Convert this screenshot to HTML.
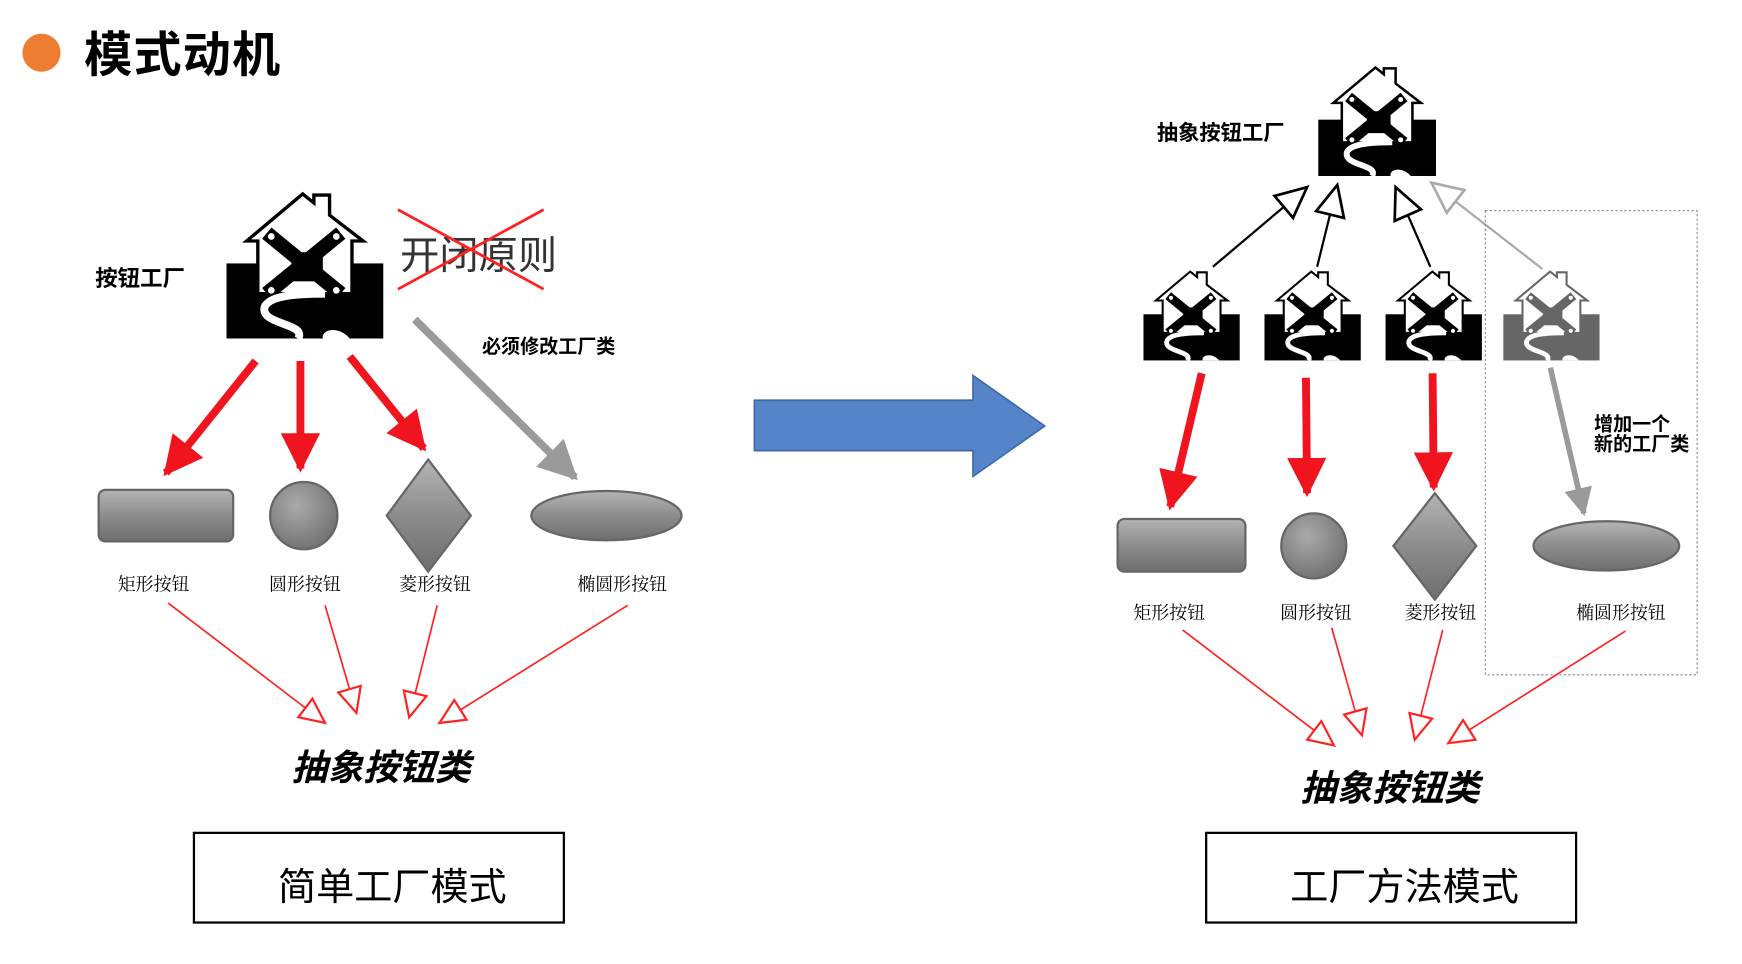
<!DOCTYPE html>
<html><head><meta charset="utf-8"><style>
html,body{margin:0;padding:0;background:#fff;}
svg{display:block;}
.b{font-family:"Liberation Sans","Noto Sans CJK SC",sans-serif;font-weight:bold;fill:#000;}
.s{font-family:"Liberation Serif","Noto Serif CJK SC",serif;fill:#000;}
</style></head><body>
<svg width="1742" height="964" viewBox="0 0 1554 860" preserveAspectRatio="none" xmlns="http://www.w3.org/2000/svg">
<defs>
<linearGradient id="g" x1="0" y1="0" x2="0" y2="1"><stop offset="0" stop-color="#b4b4b4"/><stop offset="0.5" stop-color="#8c8c8c"/><stop offset="1" stop-color="#6e6e6e"/></linearGradient>
<radialGradient id="rg" cx="0.4" cy="0.35" r="0.7"><stop offset="0" stop-color="#aaa"/><stop offset="1" stop-color="#707070"/></radialGradient>
<symbol id="house" viewBox="0 0 140 132">
<rect x="0" y="65" width="140" height="67" fill="currentColor"/>
<polygon points="18,45 68,3 78,11 78,4 92,4 92,22 122,45 112,45 112,92 28,92 28,45" fill="#fff" stroke="currentColor" stroke-width="3"/>
<rect x="58" y="55" width="28" height="26" fill="currentColor"/>
<line x1="36" y1="38" x2="102" y2="92" stroke="currentColor" stroke-width="13"/>
<line x1="102" y1="38" x2="36" y2="92" stroke="currentColor" stroke-width="13"/>
<circle cx="40" cy="41" r="3" fill="#fff"/><circle cx="98" cy="89" r="3" fill="#fff"/>
<circle cx="98" cy="41" r="3" fill="#fff"/><circle cx="40" cy="89" r="3" fill="#fff"/>
<path d="M64,132 C72,118 30,120 34,104 C38,94 60,92 88,92" fill="none" stroke="#fff" stroke-width="7"/>
<path d="M86,132 C84,124 100,120 110,132" fill="#fff"/>
</symbol>
<marker id="ho" viewBox="0 0 20 20" refX="18" refY="10" markerWidth="26" markerHeight="26" markerUnits="userSpaceOnUse" orient="auto"><path d="M1,2 L18,10 L1,18 Z" fill="#fff" stroke="#f22" stroke-width="1.5"/></marker>
<marker id="hk" viewBox="0 0 20 20" refX="18" refY="10" markerWidth="32" markerHeight="32" markerUnits="userSpaceOnUse" orient="auto"><path d="M1,2 L18,10 L1,18 Z" fill="#fff" stroke="#000" stroke-width="1.5"/></marker>
<marker id="hg" viewBox="0 0 20 20" refX="18" refY="10" markerWidth="32" markerHeight="32" markerUnits="userSpaceOnUse" orient="auto"><path d="M1,2 L18,10 L1,18 Z" fill="#fff" stroke="#aaa" stroke-width="1.5"/></marker>
<marker id="rf" viewBox="0 0 20 20" refX="18" refY="10" markerWidth="5" markerHeight="5" orient="auto"><path d="M0,0 L20,10 L0,20 Z" fill="#f0141e"/></marker>
<marker id="gf" viewBox="0 0 20 20" refX="18" refY="10" markerWidth="5" markerHeight="5" orient="auto"><path d="M0,0 L20,10 L0,20 Z" fill="#9a9a9a"/></marker>
</defs>

<circle cx="37" cy="47" r="17" fill="#ED7D31"/>
<text x="75" y="64" class="b" font-size="43" letter-spacing="1">模式动机</text>

<!-- LEFT -->
<use href="#house" x="202" y="170" width="140" height="132" color="#000"/>
<text x="85" y="255" class="b" font-size="20">按钮工厂</text>
<text x="357" y="240" font-family="Liberation Sans,'Noto Sans CJK SC',sans-serif" font-size="35" fill="#333">开闭原则</text>
<line x1="355" y1="187" x2="485" y2="258" stroke="#f22" stroke-width="2.5"/>
<line x1="355" y1="258" x2="485" y2="187" stroke="#f22" stroke-width="2.5"/>

<line x1="228" y1="322" x2="148" y2="422" stroke="#f0141e" stroke-width="7" marker-end="url(#rf)"/>
<line x1="268" y1="322" x2="268" y2="418" stroke="#f0141e" stroke-width="7" marker-end="url(#rf)"/>
<line x1="312" y1="318" x2="378" y2="400" stroke="#f0141e" stroke-width="7" marker-end="url(#rf)"/>
<line x1="370" y1="285" x2="513" y2="426" stroke="#9a9a9a" stroke-width="7" marker-end="url(#gf)"/>
<text x="430" y="315" class="b" font-size="17">必须修改工厂类</text>

<rect x="88" y="437" width="120" height="46" rx="6" fill="url(#g)" stroke="#666" stroke-width="2"/>
<circle cx="271" cy="460" r="30" fill="url(#rg)" stroke="#666" stroke-width="2"/>
<polygon points="382,410 420,460 382,510 345,460" fill="url(#g)" stroke="#666" stroke-width="2"/>
<ellipse cx="541" cy="460" rx="67" ry="22" fill="url(#g)" stroke="#666" stroke-width="2"/>
<text x="137" y="527" class="s" font-size="16" text-anchor="middle">矩形按钮</text>
<text x="272" y="527" class="s" font-size="16" text-anchor="middle">圆形按钮</text>
<text x="388" y="527" class="s" font-size="16" text-anchor="middle">菱形按钮</text>
<text x="555" y="527" class="s" font-size="16" text-anchor="middle">椭圆形按钮</text>

<line x1="150" y1="538" x2="290" y2="645" stroke="#f22" stroke-width="1.5" marker-end="url(#ho)"/>
<line x1="290" y1="540" x2="318" y2="636" stroke="#f22" stroke-width="1.5" marker-end="url(#ho)"/>
<line x1="390" y1="540" x2="365" y2="640" stroke="#f22" stroke-width="1.5" marker-end="url(#ho)"/>
<line x1="560" y1="540" x2="392" y2="645" stroke="#f22" stroke-width="1.5" marker-end="url(#ho)"/>
<text x="340" y="696" class="b" font-size="32" font-style="italic" text-anchor="middle">抽象按钮类</text>
<rect x="173" y="743" width="330" height="80" fill="none" stroke="#000" stroke-width="2"/>
<text x="350" y="803" font-family="Liberation Sans,'Noto Sans CJK SC',sans-serif" font-size="34" text-anchor="middle">简单工厂模式</text>

<polygon points="673,357 868,357 868,335 932,380 868,425 868,402 673,402" fill="#5585C8" stroke="#3F6AA8" stroke-width="1.5"/>

<!-- RIGHT -->
<use href="#house" x="1175" y="58" width="107" height="99" color="#000"/>
<text x="1032" y="125" class="b" font-size="19">抽象按钮工厂</text>
<use href="#house" x="1020" y="240" width="86" height="82" color="#000"/>
<use href="#house" x="1128" y="240" width="86" height="82" color="#000"/>
<use href="#house" x="1236" y="240" width="86" height="82" color="#000"/>
<use href="#house" x="1341" y="240" width="86" height="82" color="#666"/>

<line x1="1082" y1="238" x2="1166" y2="167" stroke="#000" stroke-width="2" marker-end="url(#hk)"/>
<line x1="1175" y1="238" x2="1193" y2="165" stroke="#000" stroke-width="2" marker-end="url(#hk)"/>
<line x1="1276" y1="238" x2="1245" y2="167" stroke="#000" stroke-width="2" marker-end="url(#hk)"/>
<line x1="1376" y1="240" x2="1277" y2="163" stroke="#aaa" stroke-width="2" marker-end="url(#hg)"/>

<rect x="1325" y="188" width="189" height="414" fill="none" stroke="#888" stroke-width="1" stroke-dasharray="2,2"/>
<text x="1422" y="384" class="b" font-size="17">增加一个</text>
<text x="1422" y="402" class="b" font-size="17">新的工厂类</text>

<line x1="1072" y1="333" x2="1044" y2="452" stroke="#f0141e" stroke-width="7" marker-end="url(#rf)"/>
<line x1="1165" y1="337" x2="1166" y2="440" stroke="#f0141e" stroke-width="7" marker-end="url(#rf)"/>
<line x1="1278" y1="333" x2="1279" y2="435" stroke="#f0141e" stroke-width="7" marker-end="url(#rf)"/>
<line x1="1383" y1="328" x2="1413" y2="458" stroke="#9a9a9a" stroke-width="5" marker-end="url(#gf)"/>

<rect x="997" y="463" width="114" height="47" rx="6" fill="url(#g)" stroke="#666" stroke-width="2"/>
<circle cx="1172" cy="487" r="29" fill="url(#rg)" stroke="#666" stroke-width="2"/>
<polygon points="1280,440 1317,487 1280,535 1243,487" fill="url(#g)" stroke="#666" stroke-width="2"/>
<ellipse cx="1433" cy="487" rx="65" ry="22" fill="url(#g)" stroke="#666" stroke-width="2"/>
<text x="1043" y="552" class="s" font-size="16" text-anchor="middle">矩形按钮</text>
<text x="1174" y="552" class="s" font-size="16" text-anchor="middle">圆形按钮</text>
<text x="1285" y="552" class="s" font-size="16" text-anchor="middle">菱形按钮</text>
<text x="1446" y="552" class="s" font-size="16" text-anchor="middle">椭圆形按钮</text>

<line x1="1055" y1="562" x2="1190" y2="665" stroke="#f22" stroke-width="1.5" marker-end="url(#ho)"/>
<line x1="1188" y1="560" x2="1215" y2="656" stroke="#f22" stroke-width="1.5" marker-end="url(#ho)"/>
<line x1="1287" y1="562" x2="1262" y2="660" stroke="#f22" stroke-width="1.5" marker-end="url(#ho)"/>
<line x1="1450" y1="563" x2="1292" y2="663" stroke="#f22" stroke-width="1.5" marker-end="url(#ho)"/>
<text x="1240" y="714" class="b" font-size="32" font-style="italic" text-anchor="middle">抽象按钮类</text>
<rect x="1076" y="743" width="330" height="80" fill="none" stroke="#000" stroke-width="2"/>
<text x="1253" y="803" font-family="Liberation Sans,'Noto Sans CJK SC',sans-serif" font-size="34" text-anchor="middle">工厂方法模式</text>
</svg>
</body></html>
